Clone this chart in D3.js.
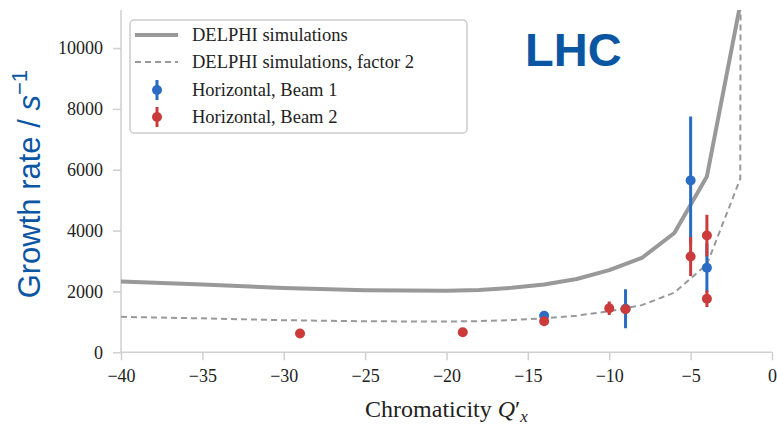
<!DOCTYPE html>
<html>
<head>
<meta charset="utf-8">
<script src="https://cdn.jsdelivr.net/npm/d3@7/dist/d3.min.js"></script>
<style>
  html, body { margin: 0; padding: 0; background: #fff; }
  svg { display: block; }
</style>
</head>
<body>
<svg id="chart" width="777" height="425"></svg>
<script>
// ---- data ----
const simX      = [-40, -35, -30, -25, -20, -18, -16, -14, -12, -10, -8, -6, -4, -2];
const simRate   = [2330, 2230, 2110, 2040, 2020, 2050, 2120, 2230, 2410, 2700, 3100, 3920, 5780, 11300];
const simX2     = [-40, -35, -30, -25, -20, -18, -16, -14, -12, -10, -8, -6, -4, -1.95, -1.93];
const simRate2  = [1165, 1115, 1055, 1020, 1010, 1025, 1060, 1115, 1205, 1350, 1550, 1960, 2890, 5700, 11500];

const beam1X    = [-14, -9, -5, -4];
const beam1Rate = [1200, 1430, 5650, 2780];
const beam1Err  = [60, 640, 2100, 800];

const beam2X    = [-29, -19, -14, -10, -9, -5, -4, -4];
const beam2Rate = [620, 660, 1020, 1447, 1415, 3150, 3840, 1760];
const beam2Err  = [0, 0, 0, 220, 60, 640, 680, 270];

const xTicks = [-40, -35, -30, -25, -20, -15, -10, -5, 0];
const yTicks = [0, 2000, 4000, 6000, 8000, 10000];
const legendLabels = ["DELPHI simulations", "DELPHI simulations, factor 2", "Horizontal, Beam 1", "Horizontal, Beam 2"];

// ---- style ----
const C_BLUE = "#2a6cc4", C_RED = "#cc3b3b", C_GRAY = "#999999", C_AXIS = "#cfcfcf";
const SERIF = "'Liberation Serif', 'DejaVu Serif', serif";
const SANS = "'Liberation Sans', Arial, sans-serif";

const svg = d3.select("#chart");
const mLeft = 121, mRight = 772, mTop = 10, mBottom = 352.3;

const x = d3.scaleLinear().domain([-40, 0]).range([mLeft, mRight]);
const y = d3.scaleLinear().domain([0, 11250]).range([mBottom, mTop]);

svg.append("defs").append("clipPath").attr("id", "clip")
  .append("rect").attr("x", mLeft).attr("y", mTop).attr("width", mRight - mLeft + 2).attr("height", mBottom - mTop);

// axes
const xAxis = svg.append("g").attr("transform", `translate(0,${mBottom})`)
  .call(d3.axisBottom(x).tickValues(xTicks).tickSize(8).tickPadding(6)
    .tickFormat(d => d < 0 ? "\u2212" + Math.abs(d) : String(d)));
const yAxis = svg.append("g").attr("transform", `translate(${mLeft},0)`)
  .call(d3.axisLeft(y).tickValues(yTicks).tickSize(8).tickPadding(10).tickFormat(d3.format("d")));
[xAxis, yAxis].forEach(g => {
  g.attr("font-family", SERIF).attr("font-size", 18);
  g.select(".domain").attr("stroke", C_AXIS).attr("stroke-width", 1.5);
  g.selectAll(".tick line").attr("stroke", C_AXIS).attr("stroke-width", 1.5);
  g.selectAll(".tick text").attr("fill", "#222").style("font-family", SERIF).style("font-size", "18px");
});
yAxis.select(".domain").attr("d", `M0,${mBottom}V${mTop}`);
xAxis.select(".domain").attr("d", `M${mLeft},0H${mRight}`);
xAxis.selectAll(".tick text").attr("dy", "0.9em");

// sim lines
const plot = svg.append("g").attr("clip-path", "url(#clip)");
const line = d3.line().x(d => x(d[0])).y(d => y(d[1]));
plot.append("path").datum(simX.map((v, i) => [v, simRate[i]]))
  .attr("d", line).attr("fill", "none").attr("stroke", C_GRAY).attr("stroke-width", 4).attr("stroke-linejoin", "round");
plot.append("path").datum(simX2.map((v, i) => [v, simRate2[i]]))
  .attr("d", line).attr("fill", "none").attr("stroke", C_GRAY).attr("stroke-width", 2).attr("stroke-dasharray", "6,4");

// error bars
function drawSeries(xs, vs, es, color) {
  const g = plot.append("g");
  xs.forEach((xv, i) => {
    if (es[i] > 0) {
      g.append("line").attr("x1", x(xv)).attr("x2", x(xv))
        .attr("y1", y(vs[i] - es[i])).attr("y2", y(vs[i] + es[i]))
        .attr("stroke", color).attr("stroke-width", 3);
    }
  });
  xs.forEach((xv, i) => {
    g.append("circle").attr("cx", x(xv)).attr("cy", y(vs[i])).attr("r", 5).attr("fill", color);
  });
}
drawSeries(beam1X, beam1Rate, beam1Err, C_BLUE);
drawSeries(beam2X, beam2Rate, beam2Err, C_RED);

// legend
const lg = svg.append("g");
lg.append("rect").attr("x", 130).attr("y", 20).attr("width", 337).attr("height", 113).attr("rx", 4)
  .attr("fill", "#fff").attr("stroke", "#cccccc").attr("stroke-width", 1.5);
const rowY = [35, 62, 90, 117];
lg.append("line").attr("x1", 135).attr("x2", 178).attr("y1", rowY[0]).attr("y2", rowY[0])
  .attr("stroke", C_GRAY).attr("stroke-width", 4);
lg.append("line").attr("x1", 135).attr("x2", 178).attr("y1", rowY[1]).attr("y2", rowY[1])
  .attr("stroke", C_GRAY).attr("stroke-width", 2).attr("stroke-dasharray", "6,4");
[[rowY[2], C_BLUE], [rowY[3], C_RED]].forEach(([ry, c]) => {
  lg.append("line").attr("x1", 157).attr("x2", 157).attr("y1", ry - 10).attr("y2", ry + 10)
    .attr("stroke", c).attr("stroke-width", 3);
  lg.append("circle").attr("cx", 157).attr("cy", ry).attr("r", 5).attr("fill", c);
});
legendLabels.forEach((t, i) => {
  lg.append("text").attr("x", 192).attr("y", rowY[i] + 6).text(t)
    .attr("fill", "#222").style("font-family", SERIF).style("font-size", "18.5px");
});

// LHC label
svg.append("text").attr("x", 525).attr("y", 66).text("LHC")
  .attr("fill", "#0b56a3").style("font-family", SANS).style("font-weight", "bold").style("font-size", "47px");

// x label
const xl = svg.append("text").attr("x", (mLeft + mRight) / 2).attr("y", 417).attr("text-anchor", "middle")
  .attr("fill", "#222").style("font-family", SERIF).style("font-size", "24px");
xl.append("tspan").text("Chromaticity ");
xl.append("tspan").text("Q").style("font-style", "italic");
xl.append("tspan").text("\u2032");
xl.append("tspan").text("x").style("font-style", "italic").style("font-size", "17px").attr("dy", 5);

// y label
const yl = svg.append("text").attr("transform", `translate(40,${(mTop + mBottom) / 2 + 3}) rotate(-90)`)
  .attr("text-anchor", "middle").attr("fill", "#0b56a3").style("font-family", SANS).style("font-size", "31px");
yl.append("tspan").text("Growth rate / ");
yl.append("tspan").text("s").style("font-style", "italic");
yl.append("tspan").text("\u22121").style("font-size", "22px").attr("dy", -13);
</script>
</body>
</html>
